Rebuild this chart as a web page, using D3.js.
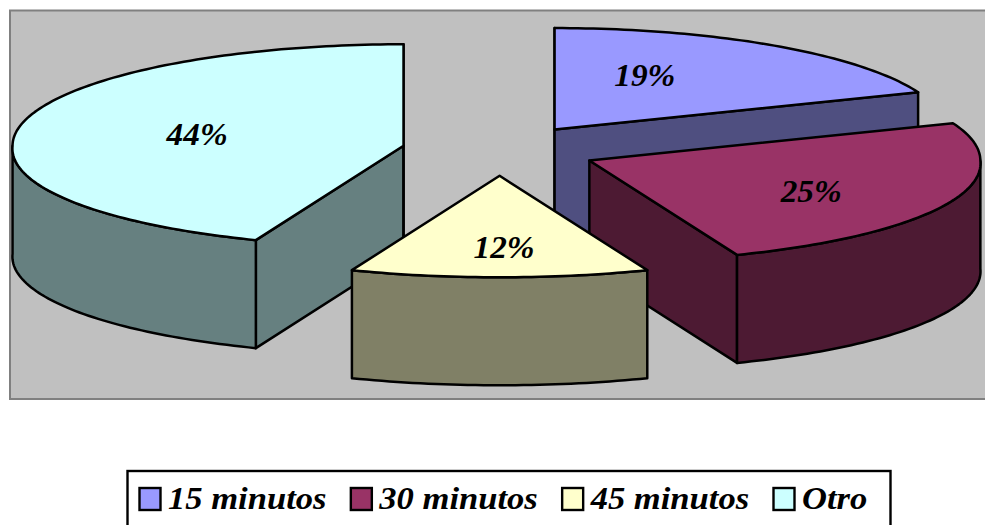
<!DOCTYPE html>
<html>
<head>
<meta charset="utf-8">
<script src="https://cdn.jsdelivr.net/npm/d3@7"></script>
<style>
  html, body { margin: 0; padding: 0; background: #fff; overflow: hidden; }
  svg { display: block; }
  text { font-family: "Liberation Serif", serif; font-weight: bold; font-style: italic; fill: #000; }
</style>
</head>
<body>
<svg id="chart" width="985" height="525"></svg>
<script>
// Time categories and their shares, in percent
const categories = ["15 minutos", "30 minutos", "45 minutos", "Otro"];
const shares = [19, 25, 12, 44];
const topColors = ["#9999ff", "#993366", "#ffffcc", "#ccffff"];
const wallColors = ["#4f4f80", "#4d1a33", "#808066", "#668080"];

// Projection of the tilted pie; the near side of the rim reads slightly wider
const pieCenter = { x: 499.6, y: 150.5 };
const radiusX = 391, radiusY = 101.5, depth = 108;
const explodeX = 97.8, explodeY = 25.3, perspective = 0.028;
// Label distance from each slice's apex, as fractions of the two radii, plus a small nudge
const labelReach = [[0.406, 0.63], [0.61, 0.8], [0, 0.71], [0.54, 0.53]];
const labelNudge = [[1, -1], [3, -1], [4.5, 0], [1, -1]];
// Painter's order: back slices first, the front slice last
const paintOrder = [0, 1, 3, 2];
const lineWidth = 2.5;

const svg = d3.select("#chart");

// Plot background
svg.append("rect")
  .attr("x", 10).attr("y", 10.5).attr("width", 990).attr("height", 388.5)
  .attr("fill", "#c0c0c0").attr("stroke", "#808080").attr("stroke-width", 2);

const arcs = d3.pie().sort(null).value(d => d)(shares);

arcs.forEach(a => {
  a.mid = (a.startAngle + a.endAngle) / 2;
  a.apex = {
    x: pieCenter.x + explodeX * Math.sin(a.mid),
    y: pieCenter.y - explodeY * Math.cos(a.mid)
  };
});

const rim = (a, t) => [
  a.apex.x + radiusX * (1 + perspective * Math.max(0, -Math.cos(t))) * Math.sin(t),
  a.apex.y - radiusY * Math.cos(t)
];
const angleSteps = (from, to) => {
  const n = Math.max(2, Math.ceil((to - from) / 0.02));
  return d3.range(n + 1).map(i => from + (to - from) * i / n);
};
const line = d3.line();
const drop = p => [p[0], p[1] + depth];

function drawPoly(pts, fill) {
  svg.append("path")
    .attr("d", line(pts) + "Z")
    .attr("fill", fill).attr("stroke", "#000")
    .attr("stroke-width", lineWidth).attr("stroke-linejoin", "round");
}

function cutFace(a, t, fill) {
  const apex = [a.apex.x, a.apex.y], edge = rim(a, t);
  drawPoly([apex, edge, drop(edge), drop(apex)], fill);
}

paintOrder.forEach(i => {
  const a = arcs[i];
  const eps = 1e-6;
  // Flat cut faces that turn toward the viewer
  if (Math.sin(a.startAngle) <= eps) cutFace(a, a.startAngle, wallColors[i]);
  if (Math.sin(a.endAngle) >= -eps) cutFace(a, a.endAngle, wallColors[i]);
  // Curved outer wall for the front half of the rim
  const from = Math.max(a.startAngle, Math.PI / 2);
  const to = Math.min(a.endAngle, 3 * Math.PI / 2);
  if (to > from) {
    const edge = angleSteps(from, to).map(t => rim(a, t));
    drawPoly(edge.concat(edge.map(drop).reverse()), wallColors[i]);
  }
  // Top surface
  drawPoly([[a.apex.x, a.apex.y]].concat(angleSteps(a.startAngle, a.endAngle).map(t => rim(a, t))), topColors[i]);
});

// Stretch a text run sideways so the serif sets as wide as a Palatino-style face
function widen(sel, factor) {
  sel.each(function () {
    d3.select(this)
      .attr("lengthAdjust", "spacingAndGlyphs")
      .attr("textLength", this.getComputedTextLength() * factor);
  });
}

// Percent labels
arcs.forEach((a, i) => {
  svg.append("text")
    .attr("x", a.apex.x + labelReach[i][0] * radiusX * Math.sin(a.mid) + labelNudge[i][0])
    .attr("y", a.apex.y - labelReach[i][1] * radiusY * Math.cos(a.mid) + 10 + labelNudge[i][1])
    .attr("text-anchor", "middle")
    .attr("font-size", 32)
    .text(shares[i] + "%")
    .call(widen, 1.04);
});

// Legend box, running off the lower edge
svg.append("rect")
  .attr("x", 127.5).attr("y", 471).attr("width", 763).attr("height", 80)
  .attr("fill", "#fff").attr("stroke", "#000").attr("stroke-width", 2.4);

const legendX = d3.scalePoint().domain(categories).range([139.5, 773.5]);
const legend = svg.selectAll("g.entry").data(categories).join("g")
  .attr("class", "entry")
  .attr("transform", d => `translate(${legendX(d)},0)`);
legend.append("rect")
  .attr("x", 0).attr("y", 488).attr("width", 21).attr("height", 22)
  .attr("fill", (d, i) => topColors[i]).attr("stroke", "#000").attr("stroke-width", 2.4);
legend.append("text")
  .attr("x", 28.5).attr("y", 509)
  .attr("font-size", 32)
  .text(d => d)
  .call(widen, 1.08);
</script>
</body>
</html>
